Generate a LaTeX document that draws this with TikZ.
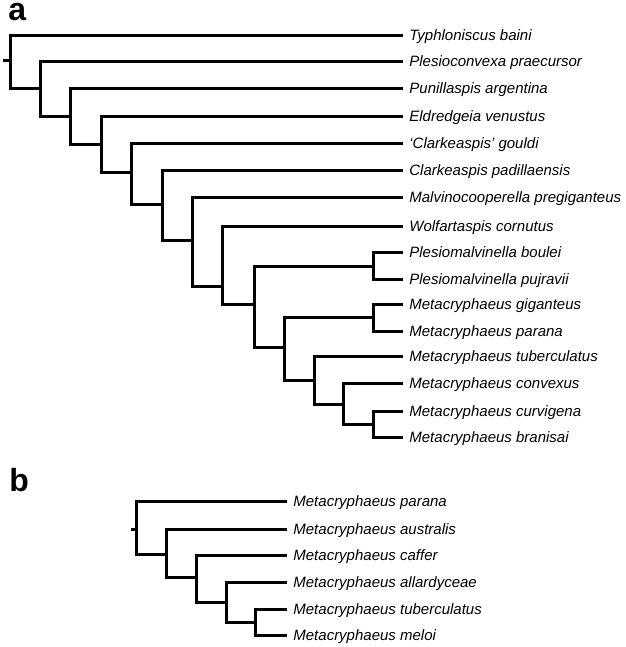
\documentclass[tikz,border=0pt]{standalone}
\usepackage{fontspec}
\setmainfont{Liberation Sans}
\tikzset{
    taxon/.style={anchor=west, inner xsep=5pt, inner ysep=0pt,
        text height=10.7pt, text depth=0pt,
        font=\fontsize{15}{18}\selectfont\itshape},
    panel/.style={anchor=base west, inner sep=0pt,
        font=\fontsize{32}{38}\selectfont\bfseries},
    elbow/.style={to path={|- (\tikztotarget)}}}

\begin{document}
\begin{tikzpicture}[x=1pt, y=-1pt, line width=2.8pt]
\useasboundingbox (0,0) rectangle (625,647);

% panel a
\node[panel] (pa) at (7,21) {a};

\node[taxon] (typh) at (403,35.5)  {Typhloniscus baini};
\node[taxon] (ples) at (403,61.5)  {Plesioconvexa praecursor};
\node[taxon] (puni) at (403,88.5)  {Punillaspis argentina};
\node[taxon] (eldr) at (403,116.5) {Eldredgeia venustus};
\node[taxon] (goul) at (403,143.5) {‘Clarkeaspis’ gouldi};
\node[taxon] (padi) at (403,170.5) {Clarkeaspis padillaensis};
\node[taxon] (malv) at (403,197.5) {Malvinocooperella pregiganteus};
\node[taxon] (wolf) at (403,226.5) {Wolfartaspis cornutus};
\node[taxon] (boul) at (403,252.5) {Plesiomalvinella boulei};
\node[taxon] (pujr) at (403,279.5) {Plesiomalvinella pujravii};
\node[taxon] (giga) at (403,304.5) {Metacryphaeus giganteus};
\node[taxon] (para) at (403,331.5) {Metacryphaeus parana};
\node[taxon] (tube) at (403,356.5) {Metacryphaeus tuberculatus};
\node[taxon] (conv) at (403,383.5) {Metacryphaeus convexus};
\node[taxon] (curv) at (403,411.5) {Metacryphaeus curvigena};
\node[taxon] (bran) at (403,437.5) {Metacryphaeus branisai};

\coordinate (a0)  at (3,60.5);
\coordinate (a1)  at (10.5,60.5);
\coordinate (a2)  at (40.5,88.5);
\coordinate (a3)  at (70.5,116.5);
\coordinate (a4)  at (101.5,144.5);
\coordinate (a5)  at (131.5,172.5);
\coordinate (a6)  at (162.5,204.5);
\coordinate (a7)  at (192.5,240.5);
\coordinate (a8)  at (222.5,286.5);
\coordinate (a9)  at (254.5,304.5);
\coordinate (a10) at (284.5,347.5);
\coordinate (a11) at (314.5,380.5);
\coordinate (a12) at (343.5,404.5);
\coordinate (pm)  at (373.5,266.5);
\coordinate (mg)  at (373.5,317.5);
\coordinate (mc)  at (373.5,424.5);

\draw (a0) -- (a1);
\path
	(a1)  edge [elbow] (typh)  (a1)  edge [elbow] (a2)
	(a2)  edge [elbow] (ples)  (a2)  edge [elbow] (a3)
	(a3)  edge [elbow] (puni)  (a3)  edge [elbow] (a4)
	(a4)  edge [elbow] (eldr)  (a4)  edge [elbow] (a5)
	(a5)  edge [elbow] (goul)  (a5)  edge [elbow] (a6)
	(a6)  edge [elbow] (padi)  (a6)  edge [elbow] (a7)
	(a7)  edge [elbow] (malv)  (a7)  edge [elbow] (a8)
	(a8)  edge [elbow] (wolf)  (a8)  edge [elbow] (a9)
	(a9)  edge [elbow] (pm)    (a9)  edge [elbow] (a10)
	(pm)  edge [elbow] (boul)  (pm)  edge [elbow] (pujr)
	(a10) edge [elbow] (mg)    (a10) edge [elbow] (a11)
	(mg)  edge [elbow] (giga)  (mg)  edge [elbow] (para)
	(a11) edge [elbow] (tube)  (a11) edge [elbow] (a12)
	(a12) edge [elbow] (conv)  (a12) edge [elbow] (mc)
	(mc)  edge [elbow] (curv)  (mc)  edge [elbow] (bran);

% panel b
\node[panel] (pb) at (8,491.7) {b};

\node[taxon] (bpar) at (287,501.5) {Metacryphaeus parana};
\node[taxon] (baus) at (287,529.5) {Metacryphaeus australis};
\node[taxon] (bcaf) at (287,555.5) {Metacryphaeus caffer};
\node[taxon] (ball) at (287,582.5) {Metacryphaeus allardyceae};
\node[taxon] (btub) at (287,609.5) {Metacryphaeus tuberculatus};
\node[taxon] (bmel) at (287,635.5) {Metacryphaeus meloi};

\coordinate (b0) at (131,529.5);
\coordinate (b1) at (136.5,529.5);
\coordinate (b2) at (166.5,554.5);
\coordinate (b3) at (196.5,577.5);
\coordinate (b4) at (226.5,602.5);
\coordinate (b5) at (255.5,622.5);

\draw (b0) -- (b1);
\path
	(b1) edge [elbow] (bpar)  (b1) edge [elbow] (b2)
	(b2) edge [elbow] (baus)  (b2) edge [elbow] (b3)
	(b3) edge [elbow] (bcaf)  (b3) edge [elbow] (b4)
	(b4) edge [elbow] (ball)  (b4) edge [elbow] (b5)
	(b5) edge [elbow] (btub)  (b5) edge [elbow] (bmel);
\end{tikzpicture}
\end{document}
